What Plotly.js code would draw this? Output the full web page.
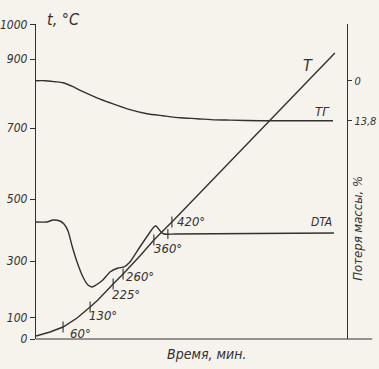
<!DOCTYPE html>
<html>
<head>
<meta charset="utf-8">
<script src="https://cdn.plot.ly/plotly-3.0.1.min.js"></script>
<style>html,body{margin:0;padding:0;background:#f6f3ec;}#chart{width:379px;height:369px;}</style>
</head>
<body>
<div id="chart"></div>
<script>
// Time (arbitrary units, 0..100 across the plot)
var tX   = [0, 4.5, 8.7, 13.2, 17.4, 19.9, 24.8, 28.0, 33.4, 37.9, 43.7, 62.4, 75.9, 96.1];
// T curve, in the chart's left-scale units
var tY   = [9.5, 22.2, 38.1, 66.7, 101.6, 123.8, 174.6, 206.3, 263.5, 314.3, 371.4, 561.9, 701.6, 907.9];

// DTA curve
var dtaX = [0, 3.5, 5.5, 7.7, 9.0, 10.3, 11.6, 13.2, 15.1, 16.7, 18.0, 19.3, 21.5, 23.8, 26.4, 28.3, 30.2, 33.4, 36.7, 37.9, 38.6, 39.2, 40.2, 41.2, 44.7, 95.8];
var dtaY = [371.4, 371.4, 377.8, 374.6, 365, 342.9, 295.2, 244.4, 196.8, 171.4, 165.1, 171.4, 187.3, 212.7, 225.4, 228.6, 244.4, 292.1, 339.7, 355.6, 358.7, 352.4, 339.7, 333.3, 333.3, 336.5];

// TG curve, mass loss %
var tgX  = [0, 2.9, 6.1, 8.7, 11.9, 15.1, 19.6, 23.8, 30.2, 35.7, 40.8, 46.3, 51.8, 57.6, 62.4, 72, 95.5];
var tgY  = [0, 0, 0.35, 0.69, 2.07, 3.8, 5.9, 7.6, 10.0, 11.4, 12.1, 12.8, 13.1, 13.5, 13.6, 13.8, 13.8];

// Temperature marks on the T curve
var markX = [8.7, 17.4, 24.8, 28.0, 37.9, 43.7];
var markY = [38.1, 101.6, 174.6, 206.3, 314.3, 371.4];
var markLabels = ['60°', '130°', '225°', '260°', '360°', '420°'];
var markDX = [17, 13, 13, 17, 14, 19];
var markDY = [-6, -8, -10, -2, -8, 1];

// Extra mark on DTA
var dtaMarkX = [42.4];
var dtaMarkY = [333.3];

// Axis tick labels
var leftTickText  = ['0', '100', '300', '500', '700', '900', '1000'];
var rightTickText = ['0', '13,8'];
var rightTickVals = [0, 13.8];

var ink = '#333130';
var narrow = '"DejaVu Sans Condensed", "DejaVu Sans", sans-serif';

var traces = [
  {x: tX, y: tY, mode: 'lines', line: {color: ink, width: 1.4}, hoverinfo: 'skip'},
  {x: dtaX, y: dtaY, mode: 'lines', line: {color: ink, width: 1.4, shape: 'spline', smoothing: 0.6}, hoverinfo: 'skip'},
  {x: tgX, y: tgY, yaxis: 'y2', mode: 'lines', line: {color: ink, width: 1.4, shape: 'spline', smoothing: 0.6}, hoverinfo: 'skip'},
  {x: markX, y: markY, mode: 'markers', marker: {symbol: 'line-ns', size: 8, line: {color: ink, width: 1.1}}, hoverinfo: 'skip'},
  {x: dtaMarkX, y: dtaMarkY, mode: 'markers', marker: {symbol: 'line-ns', size: 7, line: {color: ink, width: 1.1}}, hoverinfo: 'skip'}
];

var annotations = [];
for (var i = 0; i < markX.length; i++) {
  annotations.push({
    x: markX[i], y: markY[i], xref: 'x', yref: 'y', text: markLabels[i],
    showarrow: false, xshift: markDX[i], yshift: markDY[i], xanchor: 'center', yanchor: 'middle',
    font: {family: narrow, size: 13, color: ink, style: 'italic'}
  });
}
function paperText(x, y, text, size, extra) {
  var a = {xref: 'paper', yref: 'paper', x: x, y: y, text: text, showarrow: false,
           xanchor: 'center', yanchor: 'middle',
           font: {family: narrow, size: size, color: ink, style: 'italic'}};
  if (extra) { for (var k in extra) { a[k] = extra[k]; } }
  return a;
}
annotations.push(
  paperText(0.029, 1.013, 't, °C', 16, {xanchor: 'left'}),
  paperText(0.8746, 0.8698, 'T', 16),
  paperText(0.9228, 0.7238, 'ТГ', 13),
  paperText(0.9196, 0.3714, 'DTA', 12),
  paperText(0.5498, -0.0476, 'Время, мин.', 14),
  paperText(1.031, 0.352, 'Потеря массы, %', 13, {textangle: -90})
);

var layout = {
  width: 379, height: 369,
  margin: {l: 36, r: 32, t: 24, b: 30, pad: 0},
  paper_bgcolor: '#f6f3ec', plot_bgcolor: '#f6f3ec',
  showlegend: false,
  xaxis: {range: [0, 100], showticklabels: false, ticks: '', showline: false, showgrid: false, zeroline: false, fixedrange: true},
  yaxis: {range: [0, 1000], tickmode: 'array', tickvals: [0, 66.7, 247.6, 444.4, 669.8, 888.9, 997], ticktext: leftTickText,
          ticks: 'outside', ticklen: 5, tickwidth: 1, tickcolor: ink, showline: true, linecolor: ink, linewidth: 1.2,
          showgrid: false, zeroline: false, tickfont: {family: narrow, size: 12, color: ink, style: 'italic'}},
  yaxis2: {overlaying: 'y', side: 'right', anchor: 'x', range: [89.1, -19.56], tickmode: 'array', tickvals: rightTickVals, ticktext: rightTickText,
           ticks: 'outside', ticklen: 4, tickwidth: 1, tickcolor: ink, showline: true, linecolor: ink, linewidth: 1.2,
           showgrid: false, zeroline: false, tickfont: {family: narrow, size: 11, color: ink, style: 'italic'}},
  shapes: [
    {type: 'line', xref: 'paper', yref: 'paper', x0: 0, x1: 1.081, y0: 0, y1: 0, line: {color: ink, width: 1.2}}
  ],
  annotations: annotations
};

Plotly.newPlot('chart', traces, layout, {displayModeBar: false, staticPlot: true});
</script>
</body>
</html>
